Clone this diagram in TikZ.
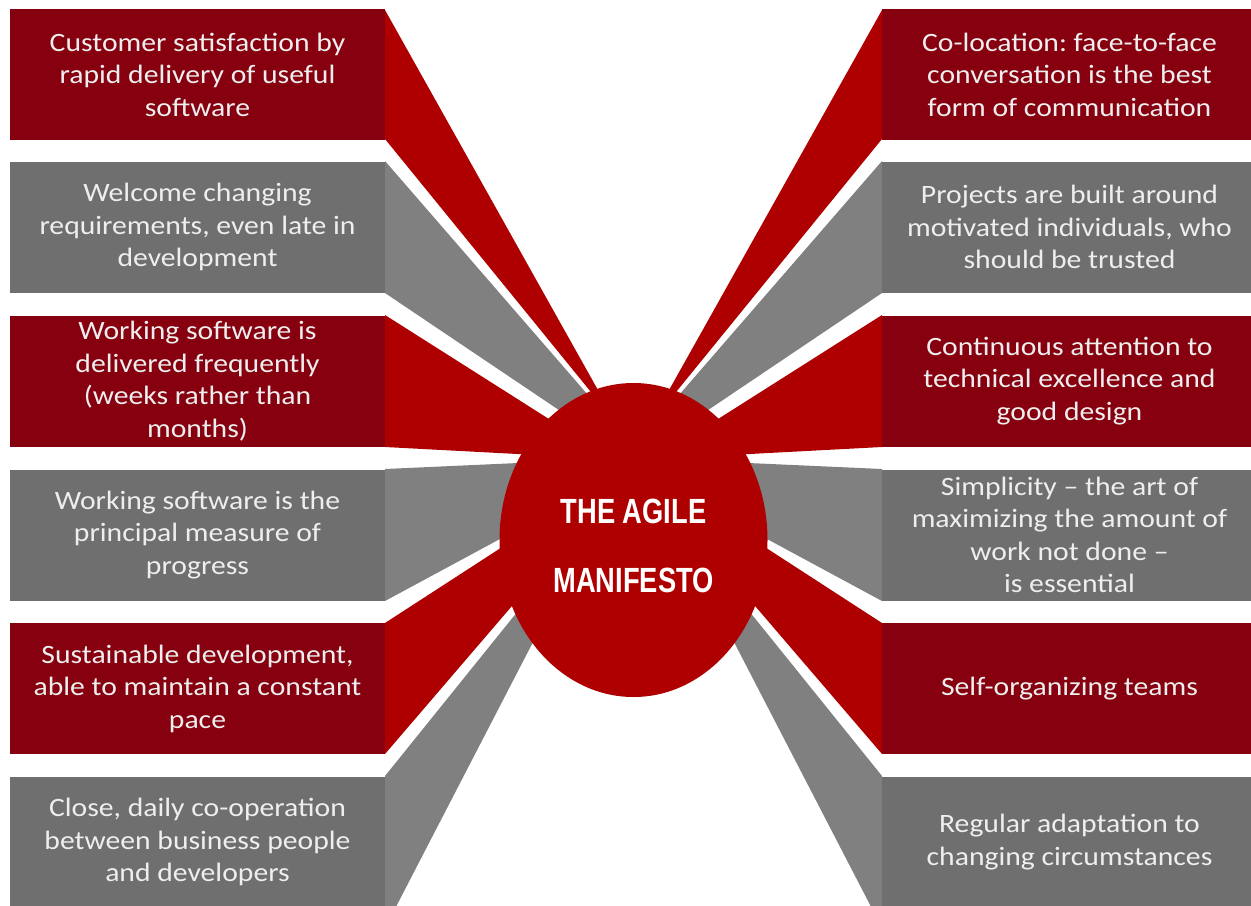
\documentclass[tikz,border=0pt]{standalone}
\usepackage{fontspec}
\setmainfont{Carlito}[FakeStretch=1.12]
\newfontfamily\titlefont{Liberation Sans}[FakeStretch=0.78]
\usetikzlibrary{shapes.geometric}
\definecolor{boxred}{HTML}{86000F}
\definecolor{rayred}{HTML}{AE0000}
\definecolor{boxgray}{HTML}{6F6F6F}
\definecolor{raygray}{HTML}{808080}
\definecolor{boxtext}{HTML}{EEEEEE}
\frenchspacing

\begin{document}
\begin{tikzpicture}[x=0.5pt, y=-0.5pt,
    itembox/.style={minimum width=187.5pt, minimum height=65.5pt, inner sep=0pt,
        align=center, text=boxtext, font=\fontsize{13.25}{16.25}\selectfont},
    redbox/.style={itembox, fill=boxred},
    graybox/.style={itembox, fill=boxgray}]
    \useasboundingbox (0,0) rectangle (1251,905);
    \clip (0,0) rectangle (1251,905);

    % Rays (left half, then mirrored to the right)
    \foreach \side in {1,-1} {
        \begin{scope}[xshift=316.75pt, xscale=\side, xshift=-316.75pt]
            \foreach \col/\ya/\px/\py/\yb in {rayred/10/617/424/139,
                    raygray/161/660/478/293, rayred/315/612/459/447,
                    raygray/469/652/457/601, rayred/623/638/459/754,
                    raygray/776/605/503/928}
                \fill[\col] (385,\ya) -- (\px,\py) -- (385,\yb) -- cycle;
        \end{scope}
    }

    % Left boxes
    \node[redbox] (l1) at (197.5,74.5) {Customer satisfaction by\\rapid delivery of useful\\software};
    \node[graybox] (l2) at (197.5,227) {Welcome changing\\requirements, even late in\\development};
    \node[redbox] (l3) at (197.5,381) {Working software is\\delivered frequently\\(weeks rather than\\months)};
    \node[graybox] (l4) at (197.5,535) {Working software is the\\principal measure of\\progress};
    \node[redbox] (l5) at (197.5,688.5) {Sustainable development,\\able to maintain a constant\\pace};
    \node[graybox] (l6) at (197.5,842) {Close, daily co-operation\\between business people\\and developers};

    % Right boxes
    \node[redbox] (r1) at (1069.5,74.5) {Co-location: face-to-face\\conversation is the best\\form of communication};
    \node[graybox] (r2) at (1069.5,227) {Projects are built around\\motivated individuals, who\\should be trusted};
    \node[redbox] (r3) at (1069.5,381) {Continuous attention to\\technical excellence and\\good design};
    \node[graybox] (r4) at (1069.5,535) {Simplicity -- the art of\\maximizing the amount of\\work not done --\\is essential};
    \node[redbox] (r5) at (1069.5,688.5) {Self-organizing teams};
    \node[graybox] (r6) at (1069.5,842) {Regular adaptation to\\changing circumstances};

    % Centre
    \node[ellipse, fill=rayred, inner sep=0pt, minimum width=134pt, minimum height=157pt] (hub) at (633.5,540) {};
    \node[text=white, align=center, font=\titlefont\bfseries\fontsize{17.5}{34.5}\selectfont] (title) at (633.5,545.5) {THE AGILE\\MANIFESTO};
\end{tikzpicture}
\end{document}
